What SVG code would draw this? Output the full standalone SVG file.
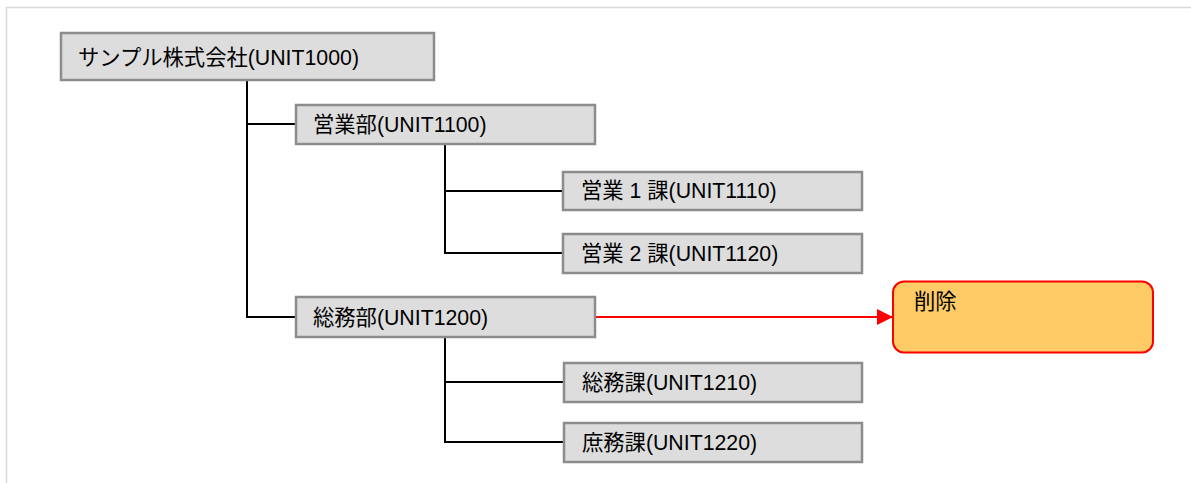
<svg xmlns="http://www.w3.org/2000/svg" width="1191" height="483" viewBox="0 0 1191 483">
<style>
.box{fill:#dddddd;stroke:#8c8c8c;stroke-width:2.5}
.lbl{font-family:"Liberation Sans","Noto Sans CJK JP",sans-serif;font-size:21.3px;fill:#000}
.con{fill:none;stroke:#000;stroke-width:2}
.red{fill:none;stroke:#ff0000;stroke-width:2}
</style>
<defs>
<marker id="ah" markerWidth="16" markerHeight="16" refX="16" refY="8" orient="auto" markerUnits="userSpaceOnUse">
<polygon points="0,0 16,8 0,16" fill="#ff0000"/>
</marker>
</defs>
<rect x="0" y="0" width="1191" height="483" fill="#ffffff"/>
<rect x="6.5" y="7.5" width="1200" height="500" fill="none" stroke="#d9d9d9" stroke-width="1.5"/>
<g id="connectors">
<polyline class="con" points="247,81 247,317 295,317"/>
<line class="con" x1="247" y1="124" x2="295" y2="124"/>
<polyline class="con" points="445,145 445,253 562,253"/>
<line class="con" x1="445" y1="191" x2="562" y2="191"/>
<polyline class="con" points="445,337 445,442 563,442"/>
<line class="con" x1="445" y1="382" x2="563" y2="382"/>
<line class="red" x1="596" y1="317" x2="893" y2="317" marker-end="url(#ah)"/>
</g>
<g id="n1000">
<rect class="box" x="61" y="33" width="373" height="47"/>
<text class="lbl" x="78" y="65">サンプル株式会社(UNIT1000)</text>
</g>
<g id="n1100">
<rect class="box" x="296" y="105" width="299" height="39"/>
<text class="lbl" x="313" y="132">営業部(UNIT1100)</text>
</g>
<g id="n1110">
<rect class="box" x="563" y="172" width="299" height="38"/>
<text class="lbl" x="581" y="198">営業 1 課(UNIT1110)</text>
</g>
<g id="n1120">
<rect class="box" x="563" y="234" width="299" height="39"/>
<text class="lbl" x="581" y="261">営業 2 課(UNIT1120)</text>
</g>
<g id="n1200">
<rect class="box" x="296" y="297" width="299" height="40"/>
<text class="lbl" x="313" y="325">総務部(UNIT1200)</text>
</g>
<g id="n1210">
<rect class="box" x="564" y="363" width="298" height="39"/>
<text class="lbl" x="582" y="390">総務課(UNIT1210)</text>
</g>
<g id="n1220">
<rect class="box" x="564" y="423" width="298" height="39"/>
<text class="lbl" x="582" y="450">庶務課(UNIT1220)</text>
</g>
<g id="delete">
<rect x="893" y="281.5" width="260" height="71" rx="11" fill="#fecb66" stroke="#ff0000" stroke-width="2"/>
<text class="lbl" x="914" y="309">削除</text>
</g>
</svg>
